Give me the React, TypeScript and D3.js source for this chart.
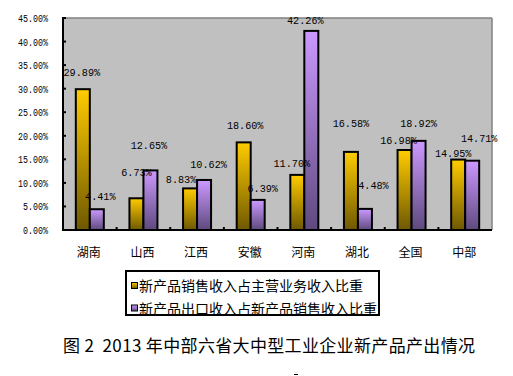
import React from "react";
import * as d3 from "d3";

const categories = ["湖南", "山西", "江西", "安徽", "河南", "湖北", "全国", "中部"];
const salesShare = [29.89, 6.73, 8.83, 18.6, 11.7, 16.58, 16.98, 14.95];
const exportShare = [4.41, 12.65, 10.62, 6.39, 42.26, 4.48, 18.92, 14.71];
const seriesNames = ["新产品销售收入占主营业务收入比重", "新产品出口收入占新产品销售收入比重"];
const yTicks = [0, 5, 10, 15, 20, 25, 30, 35, 40, 45];
const title = "图 2  2013 年中部六省大中型工业企业新产品产出情况";

// manual label nudges [dx, lift] as in the source (layout only)
const salesLabelNudge = [[-1, 16], [0, 25], [-9, 8], [1.5, 16], [-5.5, 11], [0, 28], [-6, 9], [-5, 6]];
const exportLabelNudge = [[3.5, 12.7], [-1.5, 24.7], [4.5, 15], [5, 10.7], [-6, 10], [8.5, 22.7], [0, 16.7], [7, 21.7]];

const W = 513, H = 376;
const plot = { left: 63, right: 492, top: 18, bottom: 230 };
const legend = { x: 126, y: 271, w: 253, h: 44 };

export default function App() {
  const x = d3.scaleBand<string>().domain(categories).range([plot.left, plot.right]).padding(0);
  const y = d3.scaleLinear().domain([0, 45]).range([plot.bottom, plot.top]);
  const fmt = (v: number) => v.toFixed(2) + "%";
  const barW = 14;

  const series = [
    { vals: salesShare, grad: "gGold", off: -barW, nudge: salesLabelNudge },
    { vals: exportShare, grad: "gPurple", off: 0, nudge: exportLabelNudge },
  ];

  return (
    <svg width={W} height={H} style={{ position: "absolute", left: 0, top: 0, background: "#fff" }}>
      <defs>
        <linearGradient id="gGold" x1="0" y1="0" x2="0" y2="1">
          <stop offset="0" stopColor="#FFCC00" />
          <stop offset="1" stopColor="#6E5800" />
        </linearGradient>
        <linearGradient id="gPurple" x1="0" y1="0" x2="0" y2="1">
          <stop offset="0" stopColor="#CC99FF" />
          <stop offset="1" stopColor="#5E4A7E" />
        </linearGradient>
        <clipPath id="legClip">
          <rect x={legend.x} y={legend.y} width={legend.w} height={legend.h} />
        </clipPath>
      </defs>
      <rect x={plot.left} y={plot.top} width={plot.right - plot.left} height={plot.bottom - plot.top} fill="#C0C0C0" />
      <line x1={plot.left} x2={plot.right} y1={plot.top} y2={plot.top} stroke="#808080" strokeWidth={1.5} />
      <line x1={plot.right} x2={plot.right} y1={plot.top} y2={plot.bottom} stroke="#808080" strokeWidth={1.5} />
      {yTicks.map((t) => (
        <g key={t}>
          <line x1={plot.left} x2={plot.left + 3} y1={y(t)} y2={y(t)} stroke="#000" strokeWidth={2} />
          <text x={48} y={y(t)} dy="0.35em" textAnchor="end" fontFamily="Liberation Mono" fontSize={11.5}
            textLength={fmt(t).length * 5} lengthAdjust="spacingAndGlyphs">{fmt(t)}</text>
        </g>
      ))}
      {categories.slice(1).map((c) => (
        <line key={c} x1={x(c)!} x2={x(c)!} y1={plot.bottom} y2={plot.bottom - 3} stroke="#000" strokeWidth={2} />
      ))}
      {series.map((s, si) =>
        categories.map((c, i) => {
          const cx = x(c)! + x.bandwidth() / 2;
          const v = s.vals[i];
          return (
            <rect key={si + c} x={cx + s.off} y={y(v)} width={barW} height={plot.bottom - y(v)}
              fill={`url(#${s.grad})`} stroke="#000" strokeWidth={2} />
          );
        })
      )}
      <line x1={plot.left} x2={plot.right} y1={plot.bottom} y2={plot.bottom} stroke="#000" strokeWidth={2} />
      <line x1={plot.left} x2={plot.left} y1={plot.top - 1} y2={plot.bottom + 1} stroke="#000" strokeWidth={2} />
      {series.map((s, si) =>
        categories.map((c, i) => {
          const cx = x(c)! + x.bandwidth() / 2 + s.off + barW / 2;
          const v = s.vals[i];
          const [dx, lift] = s.nudge[i];
          return (
            <text key={"l" + si + c} x={cx + dx} y={y(v) - 1 - lift} dy="0.35em" textAnchor="middle"
              fontFamily="Liberation Mono" fontSize={11.5} textLength={fmt(v).length * 6.1}
              lengthAdjust="spacingAndGlyphs">{fmt(v)}</text>
          );
        })
      )}
      {categories.map((c) => (
        <text key={"c" + c} x={x(c)! + x.bandwidth() / 2 - 1} y={253} dy="0.35em" textAnchor="middle"
          fontFamily="Noto Sans CJK SC" fontSize={12}>{c}</text>
      ))}
      <rect x={legend.x} y={legend.y} width={legend.w} height={legend.h} fill="#fff" />
      <g clipPath="url(#legClip)">
        {seriesNames.map((n, i) => (
          <g key={n}>
            <rect x={131.5} y={282.5 + i * 22.5} width={6} height={6} fill={`url(#${series[i].grad})`} stroke="#000" strokeWidth={1} />
            <text x={139} y={286 + i * 23} dy="0.36em" fontFamily="Noto Sans CJK SC" fontSize={14}>{n}</text>
          </g>
        ))}
      </g>
      <rect x={legend.x} y={legend.y} width={legend.w} height={legend.h} fill="none" stroke="#000" strokeWidth={2} />
      <text x={269} y={346} dy="0.36em" textAnchor="middle" fontFamily="Noto Sans CJK SC" fontSize={17}
        textLength={412} lengthAdjust="spacing" style={{ whiteSpace: "pre" }}>{title}</text>
      <line x1={294} x2={298} y1={374.5} y2={374.5} stroke="#000" strokeWidth={1} />
    </svg>
  );
}
